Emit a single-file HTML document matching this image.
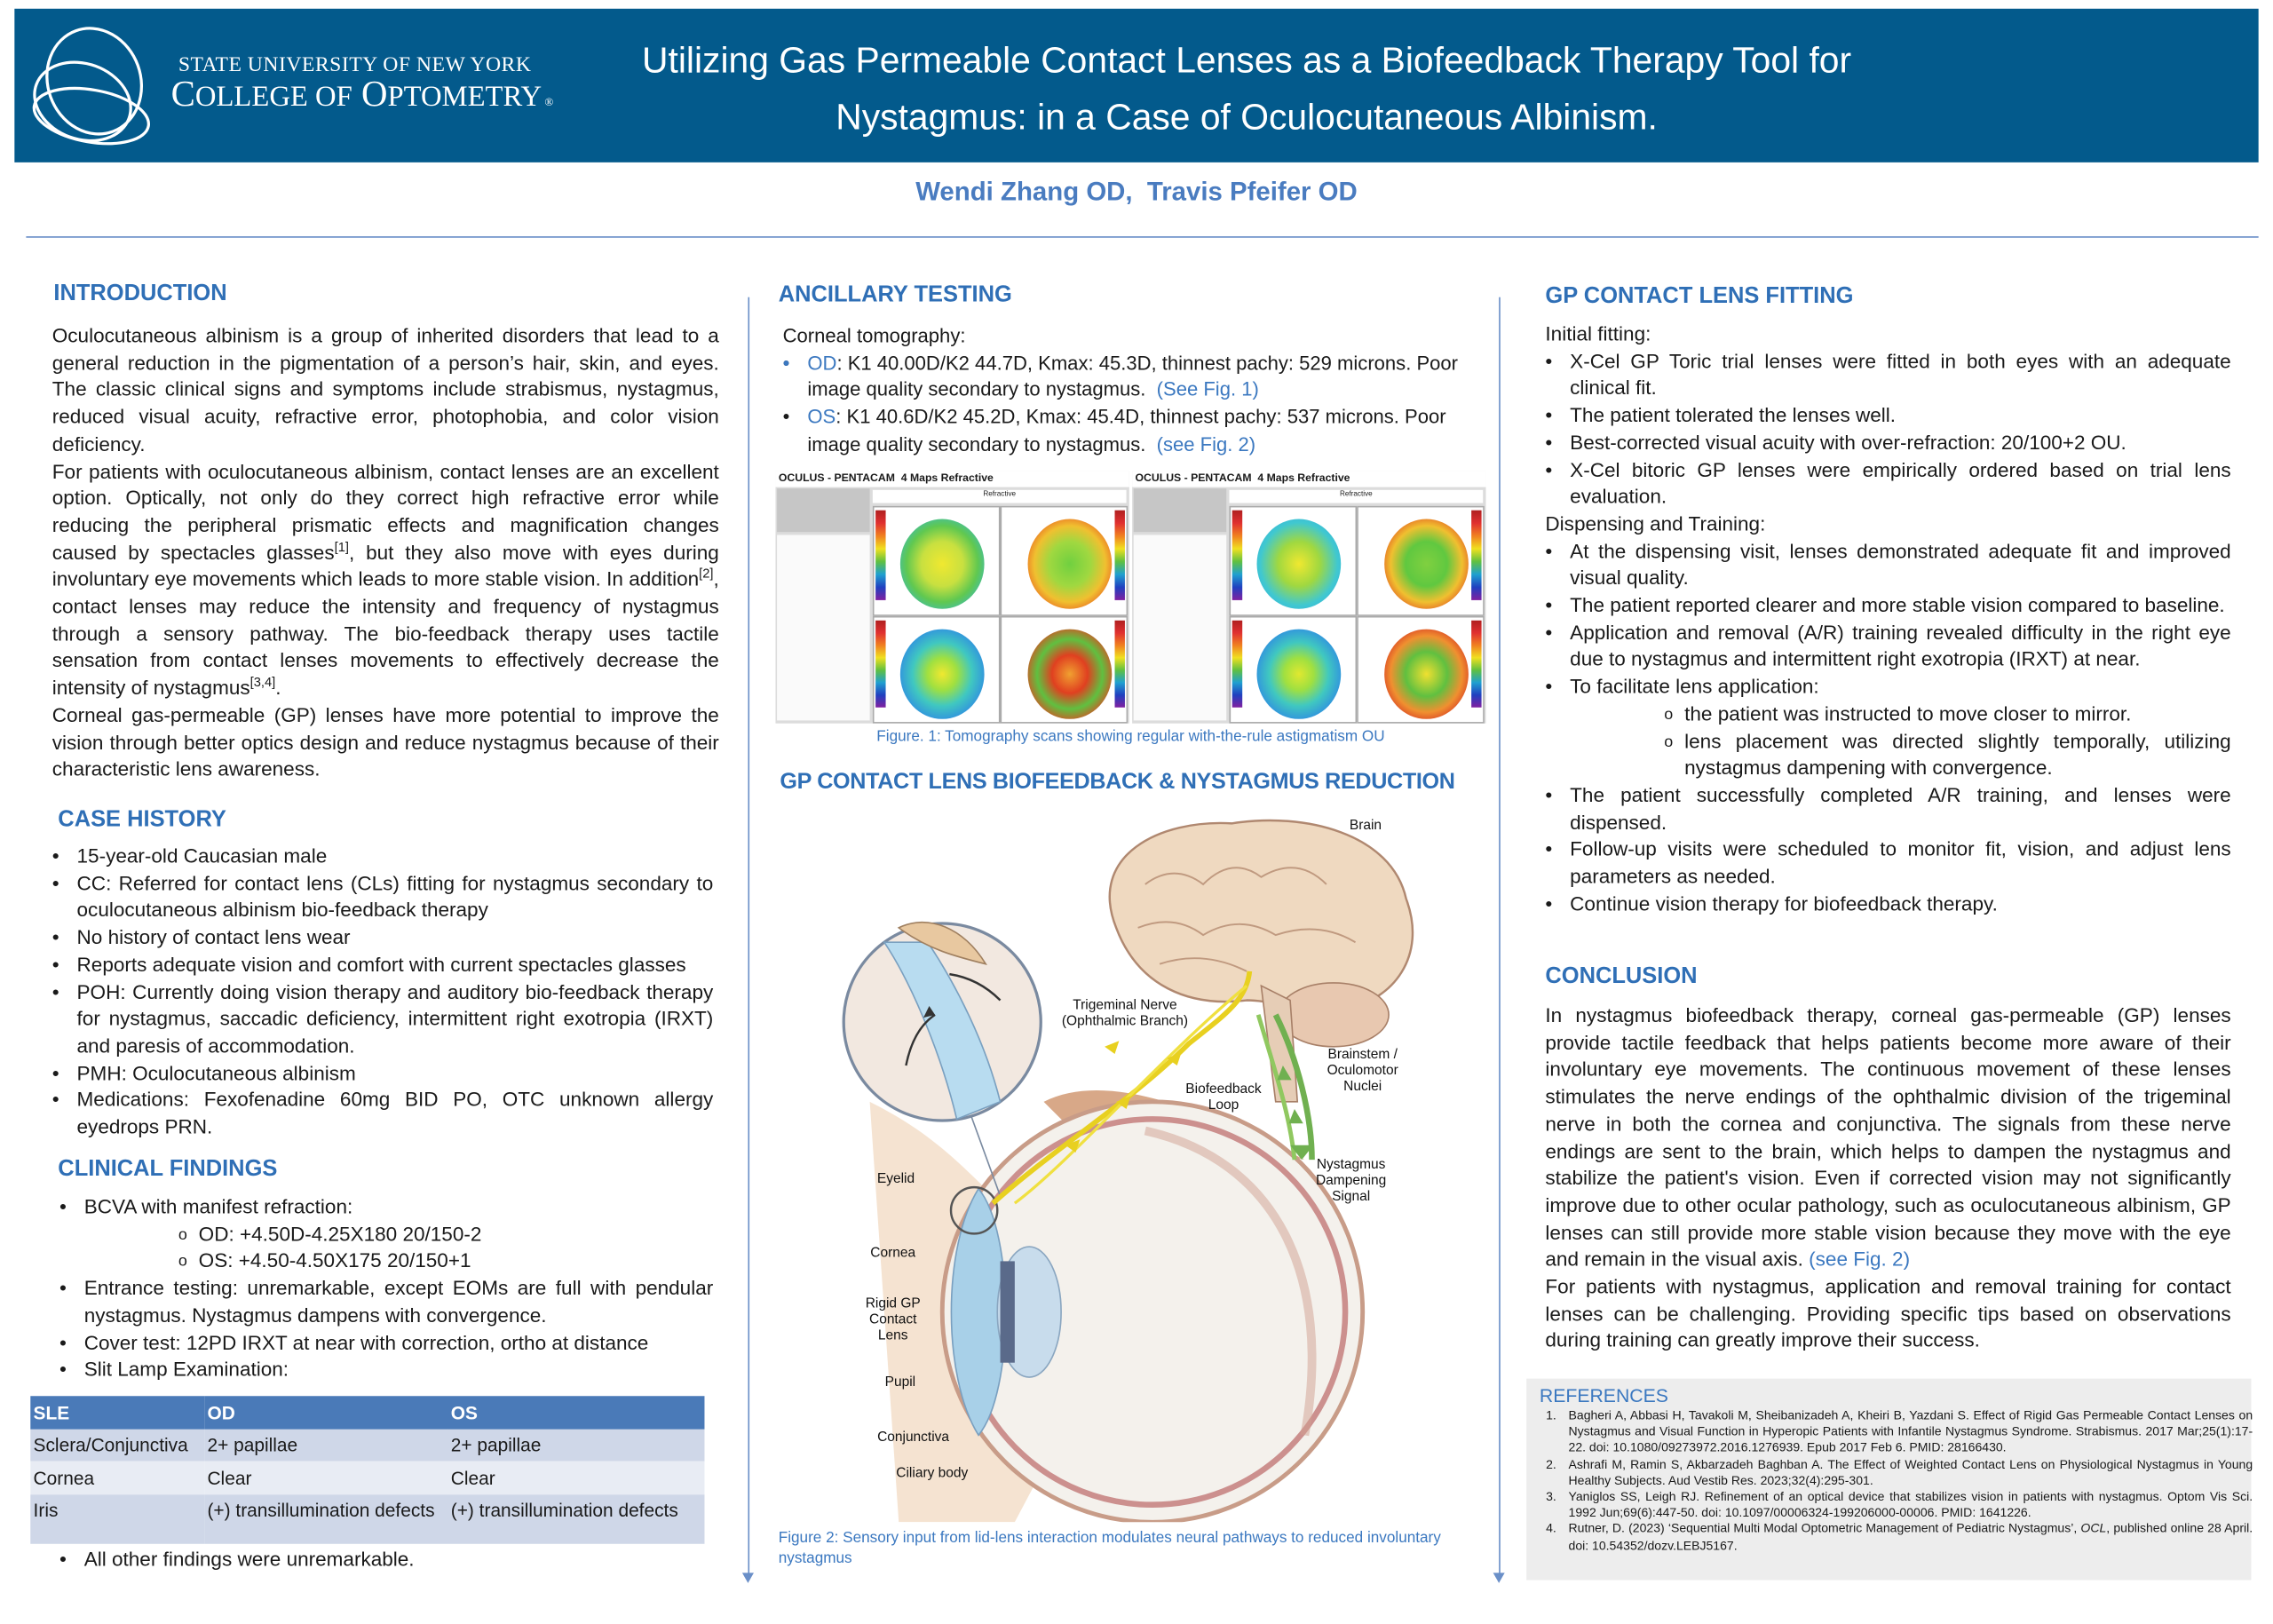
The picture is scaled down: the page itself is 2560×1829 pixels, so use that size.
<!DOCTYPE html>
<html><head><meta charset="utf-8">
<style>
html,body{margin:0;padding:0;background:#fff;}
body{width:2560px;height:1828px;overflow:hidden;position:relative;}
#w{position:absolute;left:0;top:0;width:1568px;height:1120px;transform:scale(1.632653);transform-origin:0 0;font-family:"Liberation Sans",Arial,sans-serif;color:#1a1a1a;}
.a{position:absolute;}
.h{position:absolute;color:#2f6fb6;font-weight:bold;font-size:15.6px;}
.p{position:absolute;font-size:13.8px;line-height:18.7px;text-align:justify;}
.p p{margin:0;}
ul{margin:0;padding:0;list-style:none;}
li{position:relative;padding-left:17px;}
li:before{content:"•";position:absolute;left:0;}
li.o{padding-left:96px;}
li.o:before{content:"o";left:82px;font-size:11px;}
.blue{color:#3b78c0;}
sup{font-size:9px;line-height:0;}
table{border-collapse:collapse;font-size:12.8px;}
td{padding:0 2px;height:22.5px;}
.tp{position:absolute;width:244px;height:174px;background:#dcdcdc;font-size:6px;}
.map{position:absolute;background:#fff;border:1px solid #aaa;overflow:hidden;}
.bar{position:absolute;left:1px;top:2px;width:7px;bottom:10px;background:linear-gradient(#b02020,#e03030,#f08020,#f0e020,#60c040,#20a0d0,#2040c0,#8020a0);}
.ell{position:absolute;left:18px;top:8px;width:58px;height:62px;border-radius:50%;}
</style></head><body><div id="w">

<div class="a" style="left:10px;top:6px;width:1548px;height:106px;background:#035a8c;"></div>
<svg class="a" style="left:15px;top:18px" width="100" height="84" viewBox="0 0 100 84">
<g fill="none" stroke="#fff" stroke-width="2">
<ellipse cx="50" cy="38" rx="32" ry="37" transform="rotate(-20 50 38)"/>
<ellipse cx="42" cy="52" rx="34" ry="26" transform="rotate(20 42 52)"/>
<ellipse cx="48" cy="62" rx="40" ry="18" transform="rotate(10 48 62)"/>
</g></svg>
<div class="a" style="left:123px;top:37px;color:#fff;font-family:'Liberation Serif',serif;font-size:14.5px;letter-spacing:0.3px;">STATE UNIVERSITY OF NEW YORK</div>
<div class="a" style="left:118px;top:52px;color:#fff;font-family:'Liberation Serif',serif;font-size:25px;">C<span style="font-size:20px">OLLEGE OF</span> O<span style="font-size:20px">PTOMETRY</span><span style="font-size:8px"> ®</span></div>
<div class="a" style="left:380px;top:23px;width:960px;text-align:center;color:#fff;font-size:25px;line-height:39px;">Utilizing Gas Permeable Contact Lenses as a Biofeedback Therapy Tool for<br>Nystagmus: in a Case of Oculocutaneous Albinism.</div>
<div class="a" style="left:0;top:122px;width:1568px;text-align:center;color:#4a7cc0;font-weight:bold;font-size:18px;">Wendi Zhang OD,&nbsp; Travis Pfeifer OD</div>
<div class="a" style="left:18px;top:163px;width:1540px;height:1px;background:#6a8fc8;"></div>

<div class="a" style="left:516px;top:205px;width:1px;height:885px;background:#6a8fc8;"></div>
<div class="a" style="left:512px;top:1085px;border-left:4px solid transparent;border-right:4px solid transparent;border-top:7px solid #6a8fc8;"></div>
<div class="a" style="left:1034px;top:205px;width:1px;height:885px;background:#6a8fc8;"></div>
<div class="a" style="left:1030px;top:1085px;border-left:4px solid transparent;border-right:4px solid transparent;border-top:7px solid #6a8fc8;"></div>

<div class="h" style="left:37px;top:194px;">INTRODUCTION</div>
<div class="p" style="left:36px;top:223px;width:460px;">
<p>Oculocutaneous albinism is a group of inherited disorders that lead to a general reduction in the pigmentation of a person’s hair, skin, and eyes. The classic clinical signs and symptoms include strabismus, nystagmus, reduced visual acuity, refractive error, photophobia, and color vision deficiency.</p>
<p>For patients with oculocutaneous albinism, contact lenses are an excellent option. Optically, not only do they correct high refractive error while reducing the peripheral prismatic effects and magnification changes caused by spectacles glasses<sup>[1]</sup>, but they also move with eyes during involuntary eye movements which leads to more stable vision. In addition<sup>[2]</sup>, contact lenses may reduce the intensity and frequency of nystagmus through a sensory pathway. The bio-feedback therapy uses tactile sensation from contact lenses movements to effectively decrease the intensity of nystagmus<sup>[3,4]</sup>.</p>
<p>Corneal gas-permeable (GP) lenses have more potential to improve the vision through better optics design and reduce nystagmus because of their characteristic lens awareness.</p>
</div>
<div class="h" style="left:40px;top:557px;">CASE HISTORY</div>
<div class="p" style="left:36px;top:582px;width:456px;"><ul>
<li>15-year-old Caucasian male</li>
<li>CC: Referred for contact lens (CLs) fitting for nystagmus secondary to oculocutaneous albinism bio-feedback therapy</li>
<li>No history of contact lens wear</li>
<li>Reports adequate vision and comfort with current spectacles glasses</li>
<li>POH: Currently doing vision therapy and auditory bio-feedback therapy for nystagmus, saccadic deficiency, intermittent right exotropia (IRXT) and paresis of accommodation.</li>
<li>PMH: Oculocutaneous albinism</li>
<li>Medications: Fexofenadine 60mg BID PO, OTC unknown allergy eyedrops PRN.</li>
</ul></div>
<div class="h" style="left:40px;top:798px;">CLINICAL FINDINGS</div>
<div class="p" style="left:41px;top:824px;width:451px;"><ul>
<li>BCVA with manifest refraction:</li>
<li class="o">OD: +4.50D-4.25X180 20/150-2</li>
<li class="o">OS: +4.50-4.50X175 20/150+1</li>
<li>Entrance testing: unremarkable, except EOMs are full with pendular nystagmus. Nystagmus dampens with convergence.</li>
<li>Cover test: 12PD IRXT at near with correction, ortho at distance</li>
<li>Slit Lamp Examination:</li>
</ul></div>
<table class="a" style="left:21px;top:963px;width:465px;">
<tr style="background:#4a7ab8;color:#fff;font-weight:bold;"><td style="width:116px">SLE</td><td style="width:164px">OD</td><td>OS</td></tr>
<tr style="background:#cfd7e8;"><td>Sclera/Conjunctiva</td><td>2+ papillae</td><td>2+ papillae</td></tr>
<tr style="background:#e8ecf4;"><td>Cornea</td><td>Clear</td><td>Clear</td></tr>
<tr style="background:#cfd7e8;height:34px;"><td style="vertical-align:top;padding-top:3px">Iris</td><td style="vertical-align:top;padding-top:3px">(+) transillumination defects</td><td style="vertical-align:top;padding-top:3px">(+) transillumination defects</td></tr>
</table>
<div class="p" style="left:41px;top:1067px;width:451px;"><ul><li>All other findings were unremarkable.</li></ul></div>

<div class="h" style="left:537px;top:195px;">ANCILLARY TESTING</div>
<div class="p" style="left:540px;top:223px;width:482px;text-align:left;font-size:13.5px;">
<p>Corneal tomography:</p>
<ul>
<li><span class="blue" style="position:absolute;left:0">•</span><span class="blue">OD</span>: K1 40.00D/K2 44.7D, Kmax: 45.3D, thinnest pachy: 529 microns. Poor image quality secondary to nystagmus. <span class="blue">&nbsp;(See Fig. 1)</span></li>
<li><span class="blue">OS</span>: K1 40.6D/K2 45.2D, Kmax: 45.4D, thinnest pachy: 537 microns. Poor image quality secondary to nystagmus. <span class="blue">&nbsp;(see Fig. 2)</span></li>
</ul></div>

<div class="tp" style="left:535px;top:325px;">
 <div class="a" style="left:0;top:0;width:244px;height:11px;background:#fff;font-size:7.5px;font-weight:bold;">&nbsp;OCULUS - PENTACAM&nbsp; 4 Maps Refractive</div>
 <div class="a" style="left:1px;top:12px;width:64px;height:30px;background:#c6c6c6;"></div>
 <div class="a" style="left:1px;top:44px;width:64px;height:128px;background:#fafafa;"></div>
 <div class="a" style="left:67px;top:13px;width:175px;height:9px;background:#fff;text-align:center;font-size:5px;">Refractive</div>
 <div class="map" style="left:67px;top:24px;width:86px;height:74px;"><div class="bar"></div><div class="ell" style="background:radial-gradient(ellipse,#f0e830 0%,#c8e040 35%,#60c850 60%,#30b8e0 90%);"></div></div>
 <div class="map" style="left:155px;top:24px;width:86px;height:74px;"><div class="ell" style="background:radial-gradient(ellipse,#70d040 0%,#a0d840 35%,#f0c030 60%,#e85020 85%,#3050d0 100%);"></div><div class="bar" style="left:auto;right:1px"></div></div>
 <div class="map" style="left:67px;top:100px;width:86px;height:72px;"><div class="bar"></div><div class="ell" style="background:radial-gradient(ellipse,#f0e830 0%,#a0e040 25%,#40c8c0 50%,#3090e0 75%,#3050c0 100%);"></div></div>
 <div class="map" style="left:155px;top:100px;width:86px;height:72px;"><div class="ell" style="background:radial-gradient(ellipse,#f0a030 0%,#e04020 30%,#60c040 55%,#e84020 80%,#a01020 100%);"></div><div class="bar" style="left:auto;right:1px"></div></div>
</div>
<div class="tp" style="left:781px;top:325px;">
 <div class="a" style="left:0;top:0;width:244px;height:11px;background:#fff;font-size:7.5px;font-weight:bold;">&nbsp;OCULUS - PENTACAM&nbsp; 4 Maps Refractive</div>
 <div class="a" style="left:1px;top:12px;width:64px;height:30px;background:#c6c6c6;"></div>
 <div class="a" style="left:1px;top:44px;width:64px;height:128px;background:#fafafa;"></div>
 <div class="a" style="left:67px;top:13px;width:175px;height:9px;background:#fff;text-align:center;font-size:5px;">Refractive</div>
 <div class="map" style="left:67px;top:24px;width:86px;height:74px;"><div class="bar"></div><div class="ell" style="background:radial-gradient(ellipse,#f0e830 0%,#a0d840 35%,#40c8d0 65%,#30a0e8 100%);"></div></div>
 <div class="map" style="left:155px;top:24px;width:86px;height:74px;"><div class="ell" style="background:radial-gradient(ellipse,#80d040 0%,#60c840 35%,#f0c030 60%,#e04020 85%,#b01020 100%);"></div><div class="bar" style="left:auto;right:1px"></div></div>
 <div class="map" style="left:155px;top:100px;width:86px;height:72px;"><div class="ell" style="background:radial-gradient(ellipse,#f0e030 0%,#60c040 35%,#f09030 60%,#d02020 85%,#a02080 100%);"></div><div class="bar" style="left:auto;right:1px"></div></div>
 <div class="map" style="left:67px;top:100px;width:86px;height:72px;"><div class="bar"></div><div class="ell" style="background:radial-gradient(ellipse,#e0e830 0%,#a0e040 25%,#40c8c0 50%,#3090e0 75%,#3050c0 100%);"></div></div>
</div>
<div class="a" style="left:535px;top:502px;width:490px;text-align:center;color:#3b78c0;font-size:10.5px;">Figure. 1: Tomography scans showing regular with-the-rule astigmatism OU</div>

<div class="h" style="left:538px;top:531px;font-size:15.4px;letter-spacing:-0.2px;">GP CONTACT LENS BIOFEEDBACK &amp; NYSTAGMUS REDUCTION</div>

<svg class="a" style="left:580px;top:555px" width="440" height="495" viewBox="580 555 440 495">
 <path d="M770 640 C 750 590 800 565 850 568 C 900 560 960 575 970 620 C 985 660 960 690 930 695 C 900 700 880 690 860 690 C 820 695 785 680 770 640 Z" fill="#efd9c0" stroke="#b08870" stroke-width="1.5"/>
 <path d="M790 610 q20 -15 40 0 q20 -20 40 -5 q25 -15 45 5 M785 640 q25 -10 45 5 q25 -15 50 0 q30 -10 55 5 M800 665 q30 -10 60 5" fill="none" stroke="#c09a80" stroke-width="1.2"/>
 <ellipse cx="920" cy="700" rx="38" ry="22" fill="#e8c8b0" stroke="#a88068"/>
 <path d="M870 680 L 880 760 L 895 760 L 890 690 Z" fill="#e6cdb6" stroke="#a88068"/>
 <path d="M600 760 C 640 780 660 800 690 830 C 720 850 760 870 790 880 L 700 1050 L 620 1050 Z" fill="#f3dcc6" opacity="0.8"/>
 <path d="M720 760 C 760 740 820 760 900 800 C 860 790 800 790 760 800 Z" fill="#d8a888"/>
 <circle cx="795" cy="905" r="145" fill="#f4f1ec" stroke="#c89c88" stroke-width="3"/>
 <circle cx="795" cy="905" r="133" fill="none" stroke="#b05050" stroke-width="4" opacity="0.6"/>
 <path d="M675 820 C 650 860 650 950 675 990 C 700 960 700 850 675 820 Z" fill="#a8d0e8" stroke="#7aa0c0"/>
 <ellipse cx="710" cy="905" rx="22" ry="45" fill="#c8dcec" stroke="#8aa6c0"/>
 <rect x="690" y="870" width="10" height="70" fill="#5a6a8a"/>
 <path d="M790 780 C 880 800 920 880 900 990" fill="none" stroke="#d0a090" stroke-width="6" opacity="0.5"/>
 <circle cx="650" cy="705" r="68" fill="#f2e8e0" stroke="#7a8aa0" stroke-width="2"/>
 <path d="M610 650 C 630 680 650 730 660 772 L 690 760 C 680 720 660 680 640 650 Z" fill="#b8dcf0" stroke="#7aa0c0"/>
 <path d="M620 640 C 640 630 665 640 680 665 C 660 660 640 655 620 640 Z" fill="#e8c8a0" stroke="#a08060"/>
 <path d="M625 735 q5 -25 20 -35" fill="none" stroke="#333" stroke-width="1.5"/>
 <path d="M645 700 l-8 2 l4 -8 z" fill="#333"/>
 <path d="M690 690 q-15 -15 -35 -18" fill="none" stroke="#333" stroke-width="1.5"/>
 <line x1="670" y1="770" x2="690" y2="825" stroke="#7a8aa0" stroke-width="1"/>
 <circle cx="672" cy="835" r="16" fill="none" stroke="#555" stroke-width="1.5"/>
 <path d="M685 830 C 730 790 780 760 820 720 C 845 700 860 690 862 670" fill="none" stroke="#e8d020" stroke-width="3.5"/>
 <path d="M700 830 C 740 800 800 730 860 680" fill="none" stroke="#f0e040" stroke-width="2"/>
 <path d="M880 700 C 895 730 905 770 905 800" fill="none" stroke="#70b050" stroke-width="4"/>
 <path d="M868 700 C 880 740 890 770 893 800" fill="none" stroke="#90c860" stroke-width="3"/>
 <path d="M898 800 l-8 -10 l16 0 z" fill="#70b050"/>
 <g fill="#e8d020"><path d="M735 790 l10 -4 l-3 9 z"/><path d="M770 760 l10 -4 l-3 9 z"/><path d="M805 730 l10 -4 l-3 9 z"/><path d="M762 722 l10 -4 l-3 9 z"/></g>
 <g fill="#70b050"><path d="M885 735 l6 10 l-10 0 z"/><path d="M893 765 l6 10 l-10 0 z"/></g>
 <g font-family="Liberation Sans,Arial,sans-serif" font-size="9.5" fill="#111" text-anchor="middle">
  <text x="942" y="572">Brain</text>
  <text x="776" y="696">Trigeminal Nerve</text><text x="776" y="707">(Ophthalmic Branch)</text>
  <text x="940" y="730">Brainstem /</text><text x="940" y="741">Oculomotor</text><text x="940" y="752">Nuclei</text>
  <text x="844" y="754">Biofeedback</text><text x="844" y="765">Loop</text>
  <text x="932" y="806">Nystagmus</text><text x="932" y="817">Dampening</text><text x="932" y="828">Signal</text>
  <text x="618" y="816">Eyelid</text>
  <text x="616" y="867">Cornea</text>
  <text x="616" y="902">Rigid GP</text><text x="616" y="913">Contact</text><text x="616" y="924">Lens</text>
  <text x="621" y="956">Pupil</text>
  <text x="630" y="994">Conjunctiva</text>
  <text x="643" y="1019">Ciliary body</text>
 </g>
</svg>
<div class="a" style="left:537px;top:1055px;width:480px;color:#3b78c0;font-size:10.5px;line-height:13.5px;">Figure 2: Sensory input from lid-lens interaction modulates neural pathways to reduced involuntary nystagmus</div>

<div class="h" style="left:1066px;top:196px;">GP CONTACT LENS FITTING</div>
<div class="p" style="left:1066px;top:222px;width:473px;">
<p>Initial fitting:</p>
<ul>
<li>X-Cel GP Toric trial lenses were fitted in both eyes with an adequate clinical fit.</li>
<li>The patient tolerated the lenses well.</li>
<li>Best-corrected visual acuity with over-refraction: 20/100+2 OU.</li>
<li>X-Cel bitoric GP lenses were empirically ordered based on trial lens evaluation.</li>
</ul>
<p>Dispensing and Training:</p>
<ul>
<li>At the dispensing visit, lenses demonstrated adequate fit and improved visual quality.</li>
<li>The patient reported clearer and more stable vision compared to baseline.</li>
<li>Application and removal (A/R) training revealed difficulty in the right eye due to nystagmus and intermittent right exotropia (IRXT) at near.</li>
<li>To facilitate lens application:</li>
<li class="o">the patient was instructed to move closer to mirror.</li>
<li class="o">lens placement was directed slightly temporally, utilizing nystagmus dampening with convergence.</li>
<li>The patient successfully completed A/R training, and lenses were dispensed.</li>
<li>Follow-up visits were scheduled to monitor fit, vision, and adjust lens parameters as needed.</li>
<li>Continue vision therapy for biofeedback therapy.</li>
</ul></div>
<div class="h" style="left:1066px;top:665px;">CONCLUSION</div>
<div class="p" style="left:1066px;top:692px;width:473px;">
<p>In nystagmus biofeedback therapy, corneal gas-permeable (GP) lenses provide tactile feedback that helps patients become more aware of their involuntary eye movements. The continuous movement of these lenses stimulates the nerve endings of the ophthalmic division of the trigeminal nerve in both the cornea and conjunctiva. The signals from these nerve endings are sent to the brain, which helps to dampen the nystagmus and stabilize the patient's vision. Even if corrected vision may not significantly improve due to other ocular pathology, such as oculocutaneous albinism, GP lenses can still provide more stable vision because they move with the eye and remain in the visual axis. <span class="blue">(see Fig. 2)</span></p>
<p>For patients with nystagmus, application and removal training for contact lenses can be challenging. Providing specific tips based on observations during training can greatly improve their success.</p>
</div>
<div class="a" style="left:1053px;top:951px;width:500px;height:139px;background:#ededed;"></div>
<div class="a" style="left:1062px;top:955px;color:#3b78c0;font-size:13px;">REFERENCES</div>
<ol class="a" style="left:1062px;top:971px;width:478px;margin:0;padding-left:14px;font-size:8.6px;line-height:11.2px;text-align:justify;">
<li style="padding-left:6px;list-style:decimal;">Bagheri A, Abbasi H, Tavakoli M, Sheibanizadeh A, Kheiri B, Yazdani S. Effect of Rigid Gas Permeable Contact Lenses on Nystagmus and Visual Function in Hyperopic Patients with Infantile Nystagmus Syndrome. Strabismus. 2017 Mar;25(1):17-22. doi: 10.1080/09273972.2016.1276939. Epub 2017 Feb 6. PMID: 28166430.</li>
<li style="padding-left:6px;list-style:decimal;">Ashrafi M, Ramin S, Akbarzadeh Baghban A. The Effect of Weighted Contact Lens on Physiological Nystagmus in Young Healthy Subjects. Aud Vestib Res. 2023;32(4):295-301.</li>
<li style="padding-left:6px;list-style:decimal;">Yaniglos SS, Leigh RJ. Refinement of an optical device that stabilizes vision in patients with nystagmus. Optom Vis Sci. 1992 Jun;69(6):447-50. doi: 10.1097/00006324-199206000-00006. PMID: 1641226.</li>
<li style="padding-left:6px;list-style:decimal;">Rutner, D. (2023) ‘Sequential Multi Modal Optometric Management of Pediatric Nystagmus’, <i>OCL</i>, published online 28 April. doi: 10.54352/dozv.LEBJ5167.</li>
</ol>
<style>ol li:before{content:none;}</style>
</div></body></html>
